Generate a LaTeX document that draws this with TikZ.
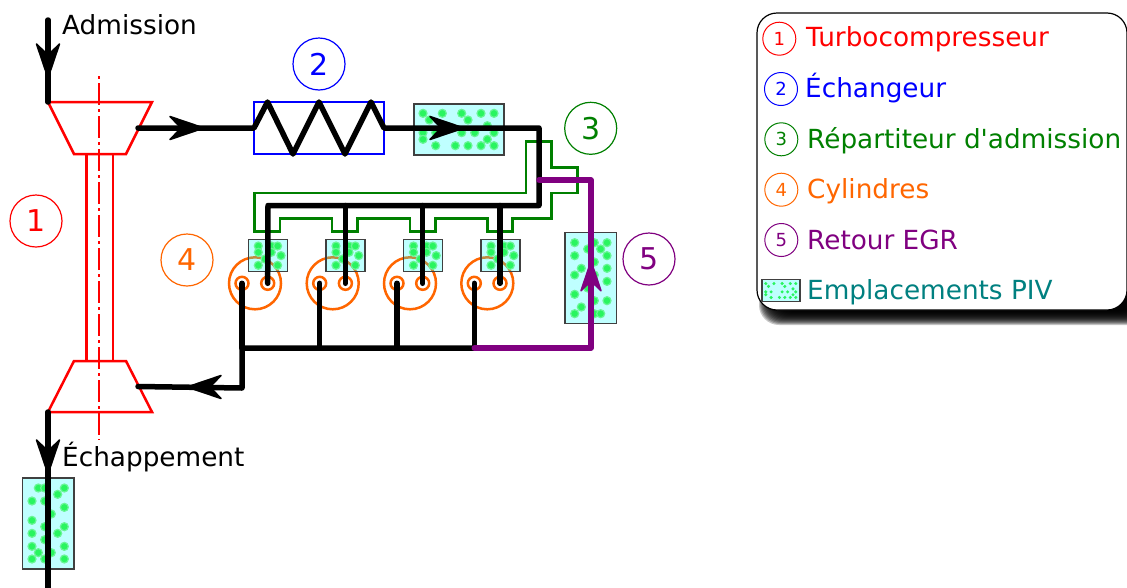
\documentclass[tikz,border=0pt]{standalone}
\usepackage{fontspec}
\setmainfont{DejaVu Sans}
\newfontfamily\plainsans{DejaVu Sans}
\definecolor{pivc}{RGB}{0,255,255}
\definecolor{dot}{RGB}{40,245,95}
\definecolor{dotedge}{RGB}{105,245,150}
\definecolor{cyl}{RGB}{255,102,0}
\definecolor{grn}{RGB}{0,128,0}
\definecolor{pur}{RGB}{128,0,128}
\definecolor{tealc}{RGB}{0,128,128}
\tikzset{
  x=1pt,y=-1pt,
  pipe/.style={line width=5.5pt,line join=round,line cap=round,black},
  egr/.style={line width=5.5pt,line join=round,line cap=round,pur},
  turbo/.style={line width=2.5pt,red,line join=miter},
  axisline/.style={line width=2pt,red,dash pattern=on 22pt off 4pt on 3pt off 4pt,dash phase=26pt},
  exch/.style={line width=2.5pt,blue},
  mani/.style={line width=2.5pt,grn,line join=miter},
  bigcyl/.style={circle,draw=cyl,line width=2.5pt,minimum size=52pt,inner sep=0pt},
  port/.style={circle,draw=cyl,line width=2.5pt,minimum size=13pt,inner sep=0pt},
  tag/.style={circle,draw,line width=1.2pt,minimum size=52pt,inner sep=0pt,font=\plainsans\fontsize{30}{30}\selectfont},
  ltag/.style={circle,draw,line width=1pt,minimum size=33pt,inner sep=0pt,font=\plainsans\fontsize{18}{18}\selectfont},
  ltext/.style={anchor=base west,inner sep=0pt,font=\plainsans\fontsize{26.3}{26.3}\selectfont},
  pivbox/.style={draw=black!75,line width=1.2pt,fill=pivc,fill opacity=.25},
  pivdot/.style={circle,fill=dot,draw=dotedge,line width=1.2pt,minimum size=8pt,inner sep=0pt},
}
% head: tip position, rotation, colour, scale
\newcommand{\flowhead}[4]{\filldraw[#3,line width=1.5pt,line join=round,shift={(#1)},rotate=#2,scale=#4] (1,0) -- (-33,-11.5) -- (-22,0) -- (-33,11.5) -- cycle;}
\begin{document}
\begin{tikzpicture}
\useasboundingbox (0,0) rectangle (1127,587);
\fill[white] (0,0) rectangle (1127,587);

% legend
\begin{scope}
\clip (0,0) rectangle (1127,587);
\foreach \o in {7,6,5,4,3,2,1,0,-1,-2,-3,-4,-5,-6,-7}{
  \fill[black,opacity=.22,rounded corners=20pt] (766-\o,40-\o) rectangle (1145+\o,318+\o);
}
\end{scope}
\draw[black,fill=white,line width=1.2pt,rounded corners=20pt] (757,13) rectangle (1127,310);
\node[ltag,draw=red,text=red] (l1) at (779.3,38.7) {1};
\node[ltag,draw=blue,text=blue] (l2) at (781,89) {2};
\node[ltag,draw=grn,text=grn] (l3) at (781.3,139.3) {3};
\node[ltag,draw=cyl,text=cyl] (l4) at (781.3,189.7) {4};
\node[ltag,draw=pur,text=pur] (l5) at (781.3,240) {5};
\node[ltext,text=red] (t1) at (806,46.5) {Turbocompresseur};
\node[ltext,text=blue] (t2) at (805,97.5) {Échangeur};
\node[ltext,text=grn] (t3) at (807,148.5) {Répartiteur d'admission};
\node[ltext,text=cyl] (t4) at (807,198) {Cylindres};
\node[ltext,text=pur] (t5) at (807,249) {Retour EGR};
\node[ltext,text=tealc] (t6) at (807,299) {Emplacements PIV};
\draw[pivbox] (762,279.5) rectangle (800,301.5);
\foreach \p/\q in {579/70,637/70,695/70,753/70,792/70,598/90,714/90,772/107,579/128,617/128,695/128,734/128,792/128,579/148,772/148,617/167,676/167,714/167,753/167,792/167}{
  \fill[dot] ({762+(\p/3-184)*.4222},{279.5+(\q/3-14)*.431}) circle (1.7);
}

% cylinders (under the translucent PIV boxes)
\foreach \n/\cx in {a/255,b/332.7,c/410,d/487.3}{
  \node[bigcyl] (cyl\n) at (\cx,283.3) {};
  \node[port] (pin\n) at (\cx+12.7,283.3) {};
  \node[port] (pex\n) at (\cx-13,283.3) {};
}

% PIV boxes
\draw[pivbox] (414,104) rectangle (504,155);
\foreach \p/\q in {579/70,637/70,695/70,753/70,792/70,598/90,714/90,772/107,579/128,617/128,695/128,734/128,792/128,579/148,772/148,617/167,676/167,714/167,753/167,792/167}{
  \node[pivdot] at ({230+\p/3},{90+\q/3}) {};
}
\foreach \bx in {248.3,326,403.5,481}{
  \draw[pivbox] (\bx,239.3) rectangle (\bx+39,271.7);
  \foreach \p/\q in {10/6.7,10/13,23/6.7,29.3/6.7,23/13,32.7/16.3,16.7/19.7,10/26,29.3/26}{
    \node[pivdot] at (\bx+\p,239.3+\q) {};
  }
}
\draw[pivbox] (565,232.7) rectangle (616.7,323.3);
\foreach \p/\q in {1034/458,1093/458,1131/458,1073/477,1112/477,1034/497,1131/497,1093/516,1054/535,1131/535,1034/555,1093/555,1131/574,1073/594,1034/613,1093/632,1131/632,1054/651,1034/671,1093/671,1112/671}{
  \node[pivdot] at ({230+\p/3},{90+\q/3}) {};
}
\draw[pivbox] (22.3,478) rectangle (74,569);
\foreach \p/\q in {115/444,134/444,193/444,173/463,96/483,134/483,193/502,154/522,96/541,134/560,193/560,96/580,173/580,134/599,96/619,193/619,115/638,154/638,96/657,134/657,193/657}{
  \node[pivdot] at ({\p/3},{340+\q/3}) {};
}

% turbocharger
\draw[turbo] (48,102) -- (152,102) -- (126,154) -- (74,154) -- cycle;
\draw[turbo] (74,361) -- (126,361) -- (152,412) -- (48,412) -- cycle;
\draw[turbo] (86.5,154) -- (86.5,361);
\draw[turbo] (113,154) -- (113,361);
\coordinate (axt) at (99.3,76);
\coordinate (axb) at (99.3,440);
\draw[axisline] (axt) -- (axb);

% exchanger
\draw[exch] (254,102) rectangle (384,154);

% manifold
\draw[mani] (526,141.7) -- (551.7,141.7) -- (551.7,167.3) -- (577.7,167.3) -- (577.7,193) -- (551.7,193) -- (551.7,218.7) -- (512.7,218.7) -- (512.7,231.7) -- (487.3,231.7) -- (487.3,218.7) -- (435.7,218.7) -- (435.7,231.7) -- (410,231.7) -- (410,218.7) -- (357.7,218.7) -- (357.7,231.7) -- (332,231.7) -- (332,218.7) -- (280,218.7) -- (280,231.7) -- (254.3,231.7) -- (254.3,193) -- (526,193) -- cycle;

% coordinates of the circuit
\coordinate (in) at (48,20);
\coordinate (cin) at (48,102);
\coordinate (cout) at (138,128);
\coordinate (ex1) at (254,128);
\coordinate (ex2) at (384,128);
\coordinate (corner) at (539,128);
\coordinate (rail) at (539,205.5);
\coordinate (tout) at (48,412);
\coordinate (end) at (48,590);
\coordinate (tin) at (138,386.5);
\coordinate (col) at (242,388);
\coordinate (coltop) at (242,348);
\coordinate (colend) at (474.3,348);
\coordinate (egr1) at (591,348);
\coordinate (egr2) at (591,180);
\coordinate (egr3) at (539,180);

% black pipes
\draw[pipe] (in) -- (cin);
\draw[pipe] (cout) -- (ex1) -- (267.5,102) -- (293,154) -- (319,102) -- (345,154) -- (371,102) -- (ex2) -- (corner) -- (rail) -- (268,205.5) -- (pina.center);
\draw[pipe] (345.4,205.5) -- (pinb.center);
\draw[pipe] (422.7,205.5) -- (pinc.center);
\draw[pipe] (500,205.5) -- (pind.center);
\draw[pipe] (tout) -- (end);
\draw[pipe] (tin) -- (col) -- (coltop) -- (colend);
\draw[pipe] (pexa.center) -- (coltop);
\draw[pipe] (pexb.center) -- (319.7,348);
\draw[pipe] (pexc.center) -- (397,348);
\draw[pipe] (pexd.center) -- (colend);

% EGR
\draw[egr] (colend) -- (egr1) -- (egr2) -- (egr3);

% arrow heads
\flowhead{48,77}{-90}{black}{1}
\flowhead{203,128}{0}{black}{1}
\flowhead{463,128}{0}{black}{1}
\flowhead{48,473}{-90}{black}{1}
\flowhead{188,387}{180}{black}{1}
\flowhead{591,262}{90}{pur}{.87}

% captions
\node[ltext] (adm) at (62,34.3) {Admission};
\node[ltext] (ech) at (62,466) {Échappement};
\node[tag,draw=red,text=red] (n1) at (36,221) {1};
\node[tag,draw=blue,text=blue] (n2) at (319,64) {2};
\node[tag,draw=grn,text=grn] (n3) at (590.7,128.3) {3};
\node[tag,draw=cyl,text=cyl] (n4) at (187,260) {4};
\node[tag,draw=pur,text=pur] (n5) at (649,259) {5};
\end{tikzpicture}
\end{document}
